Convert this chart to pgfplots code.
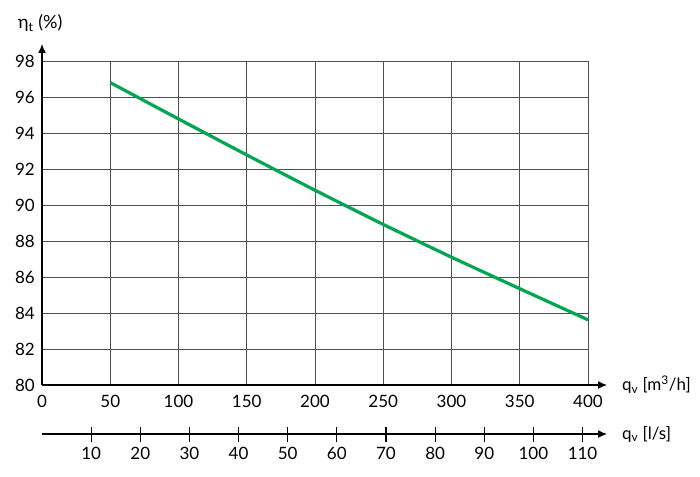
\documentclass[border=0pt]{standalone}
\usepackage{fontspec}
\setmainfont{Lato}
\usepackage{pgfplots}
\pgfplotsset{compat=1.18}
\usetikzlibrary{arrows.meta}
\definecolor{lgreen}{RGB}{0,166,81}
\definecolor{gridc}{RGB}{80,80,80}
\begin{document}
\fontsize{17}{20}\selectfont
\begin{tikzpicture}
\useasboundingbox (-42pt,-91pt) rectangle (658pt,385pt);
\begin{axis}[
  at={(0,0)}, anchor=south west,
  scale only axis, width=546pt, height=324pt,
  xmin=0, xmax=400, ymin=80, ymax=98,
  axis lines*=left,
  axis line style={black, line width=1.2pt},
  xtick={0,50,...,400}, ytick={80,82,...,98},
  major tick length=0pt,
  grid=major,
  major grid style={gridc, line width=0.7pt},
  tick label style={font=\fontsize{17}{20}\selectfont, inner sep=0pt},
  /pgf/number format/assume math mode=true,
  xticklabel style={anchor=north, yshift=-10pt},
  yticklabel style={anchor=east, xshift=-7pt},
]
\addplot[lgreen, line width=3.2pt, line cap=butt, smooth, tension=0.3] coordinates {
 (50,96.80) (100,94.78) (150,92.78) (200,90.82) (250,88.92) (300,87.10) (350,85.35) (400,83.62)
};
\end{axis}
\begin{axis}[
  at={(0,-49pt)}, anchor=south west,
  scale only axis, width=546pt, height=10pt,
  xmin=0, xmax=111.111, ymin=0, ymax=1,
  hide y axis,
  axis x line*=bottom,
  x axis line style={draw=none},
  xtick={10,20,...,110},
  major tick length=15pt, tick align=center,
  tick style={black, line width=1.2pt},
  tick label style={font=\fontsize{17}{20}\selectfont, inner sep=0pt},
  /pgf/number format/assume math mode=true,
  xticklabel style={anchor=north, yshift=-5pt},
]
\addplot[draw=none] coordinates {(0,0) (111.111,0)};
\end{axis}
\draw[black, line width=1.2pt, -{Latex[length=9pt,width=8pt]}] (0,0) -- (565pt,0);
\draw[black, line width=1.2pt, -{Latex[length=9pt,width=8pt]}] (0,0) -- (0,341pt);
\draw[black, line width=1.2pt, -{Latex[length=9pt,width=8pt]}] (0,-49pt) -- (565pt,-49pt);
\node[anchor=west, inner sep=0pt] at (580pt,0) {q\textsubscript{v} [m\textsuperscript{3}/h]};
\node[anchor=west, inner sep=0pt] at (580pt,-49pt) {q\textsubscript{v} [l/s]};
\node[anchor=west, inner sep=0pt, font=\fontsize{18}{21}\selectfont] at (-24pt,362pt) {η\textsubscript{t} (\%)};
\end{tikzpicture}
\end{document}
